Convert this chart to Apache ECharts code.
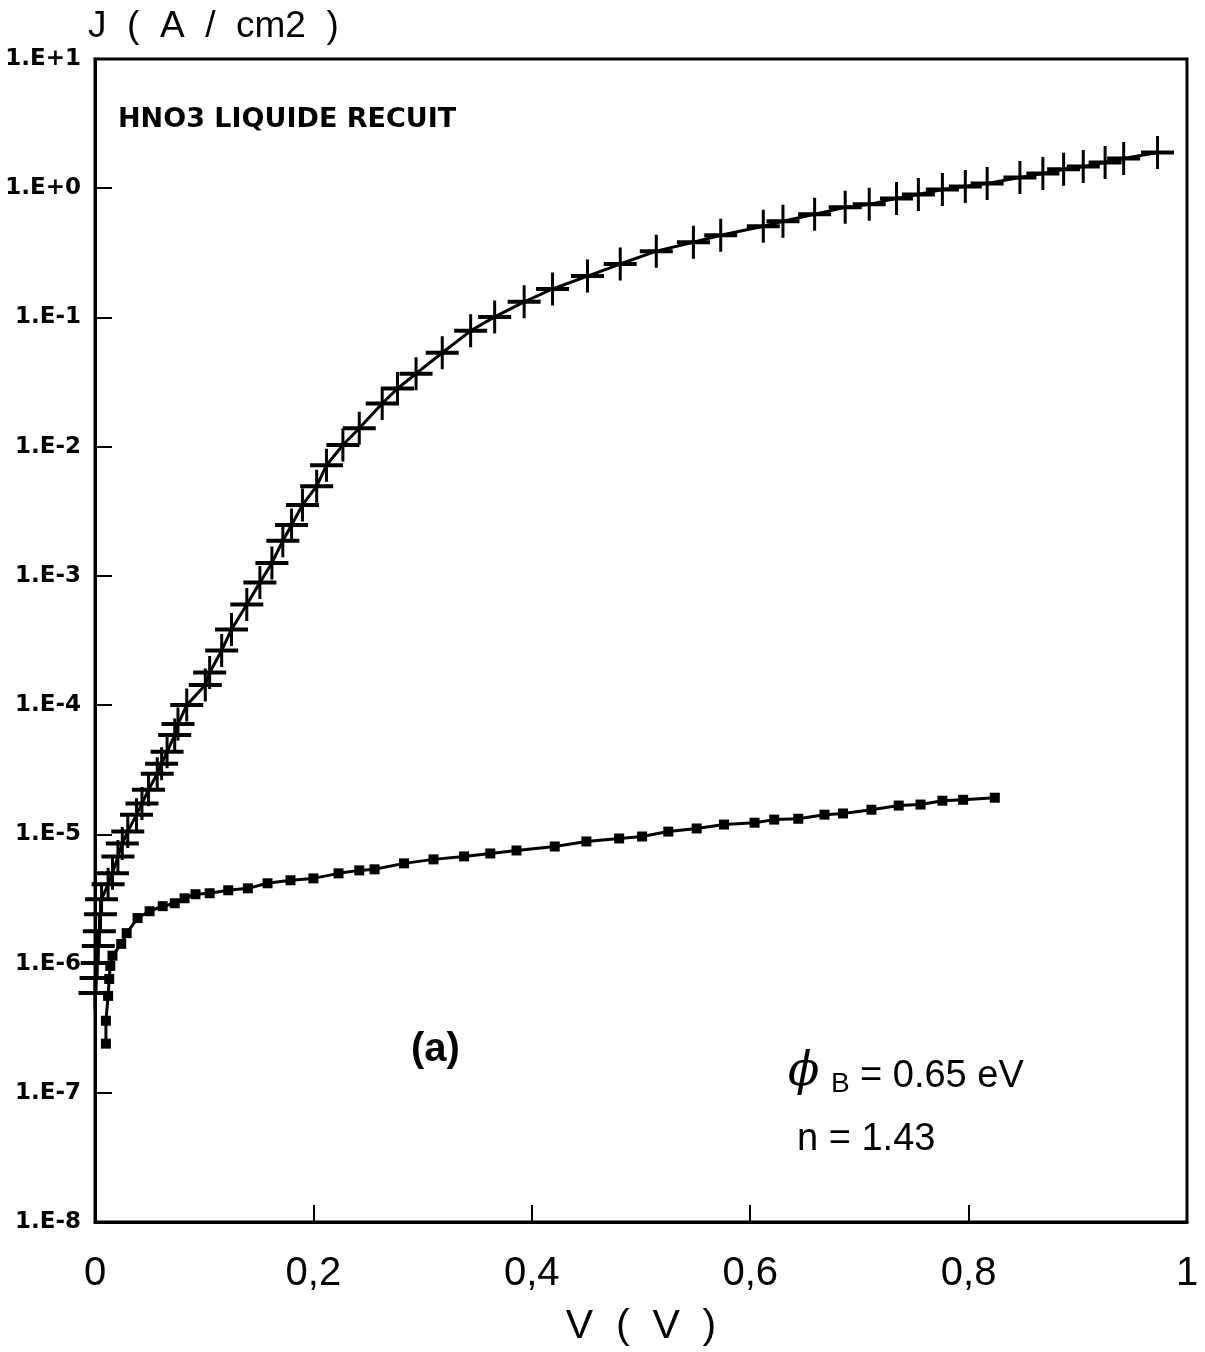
<!DOCTYPE html>
<html>
<head>
<meta charset="utf-8">
<script src="https://cdn.jsdelivr.net/npm/echarts@6/dist/echarts.min.js"></script>
<style>
html,body{margin:0;padding:0;background:#fff;}
#chart{width:1205px;height:1352px;}
</style>
</head>
<body>
<div id="chart"></div>
<script>
// Upper curve (plus markers): V (volts)
const upperV = [0.000,0.001,0.002,0.003,0.004,0.005,0.006,0.012,0.016,0.021,0.025,0.030,0.038,0.043,0.049,0.057,0.061,0.066,0.073,0.076,0.084,0.101,0.105,0.116,0.125,0.139,0.151,0.162,0.172,0.180,0.190,0.203,0.212,0.227,0.242,0.263,0.277,0.294,0.318,0.344,0.366,0.393,0.419,0.451,0.481,0.514,0.548,0.573,0.612,0.630,0.659,0.687,0.709,0.734,0.754,0.776,0.797,0.817,0.847,0.868,0.887,0.905,0.925,0.942,0.973];
// Upper curve: J (A/cm2)
const upperJ = [5.93e-7,7.74e-7,1.01e-6,1.37e-6,1.78e-6,2.41e-6,3.15e-6,4.10e-6,4.99e-6,6.75e-6,8.49e-6,1.05e-5,1.42e-5,1.73e-5,2.21e-5,2.94e-5,3.51e-5,4.35e-5,5.87e-5,7.14e-5,1.00e-4,1.43e-4,1.79e-4,2.65e-4,3.85e-4,6.00e-4,8.87e-4,1.26e-3,1.87e-3,2.48e-3,3.54e-3,4.95e-3,7.19e-3,1.03e-2,1.39e-2,2.16e-2,2.82e-2,3.67e-2,5.33e-2,7.88e-2,0.101,0.132,0.166,0.209,0.259,0.326,0.382,0.433,0.508,0.555,0.628,0.711,0.750,0.834,0.895,0.979,1.03,1.09,1.21,1.30,1.40,1.47,1.58,1.70,1.89];
// Lower curve (square markers): V (volts)
const lowerV = [0.010,0.010,0.012,0.013,0.014,0.016,0.024,0.029,0.039,0.050,0.062,0.073,0.082,0.092,0.105,0.122,0.140,0.158,0.179,0.200,0.223,0.242,0.256,0.283,0.310,0.338,0.362,0.386,0.421,0.450,0.480,0.501,0.525,0.551,0.576,0.604,0.622,0.644,0.668,0.685,0.711,0.736,0.756,0.776,0.795,0.824];
// Lower curve: J (A/cm2)
const lowerJ = [2.40e-7,3.61e-7,5.62e-7,7.60e-7,9.59e-7,1.15e-6,1.42e-6,1.72e-6,2.25e-6,2.54e-6,2.78e-6,2.93e-6,3.20e-6,3.44e-6,3.50e-6,3.69e-6,3.82e-6,4.18e-6,4.41e-6,4.56e-6,4.99e-6,5.26e-6,5.36e-6,5.96e-6,6.40e-6,6.75e-6,7.11e-6,7.50e-6,8.05e-6,8.81e-6,9.29e-6,9.62e-6,1.05e-5,1.11e-5,1.19e-5,1.23e-5,1.30e-5,1.32e-5,1.42e-5,1.45e-5,1.55e-5,1.67e-5,1.70e-5,1.82e-5,1.85e-5,1.92e-5];
// Tick labels
const xTickLabels = {0:'0',0.2:'0,2',0.4:'0,4',0.6:'0,6',0.8:'0,8',1:'1'};
const yTickLabels = {'1':'1.E+1','0':'1.E+0','-1':'1.E-1','-2':'1.E-2','-3':'1.E-3','-4':'1.E-4','-5':'1.E-5','-6':'1.E-6','-7':'1.E-7','-8':'1.E-8'};

const upperData = upperV.map((v,i)=>[v, upperJ[i]]);
const lowerData = lowerV.map((v,i)=>[v, lowerJ[i]]);

const FONT = 'Liberation Sans';
const plusPath = 'path://M0,14.5H33V18.5H0Z M15,0H18V33H15Z';

const chart = echarts.init(document.getElementById('chart'), null, {renderer:'canvas'});
chart.setOption({
  animation: false,
  backgroundColor: '#fff',
  grid: {left: 95, right: 18, top: 59, bottom: 125, show: true, borderColor: '#000', borderWidth: 3, backgroundColor: 'transparent'},
  xAxis: {
    type: 'value', min: 0, max: 1, interval: 0.2,
    axisLine: {show: true, lineStyle: {color: '#000', width: 3}},
    axisTick: {show: true, inside: true, length: 17, lineStyle: {color: '#000', width: 2}},
    splitLine: {show: false},
    axisLabel: {
      margin: 32, fontSize: 40, color: '#000', fontFamily: FONT,
      formatter: v => { const k = Math.round(v*10)/10; return xTickLabels[k] !== undefined ? xTickLabels[k] : ''; }
    },
    name: 'V  (  V  )', nameLocation: 'middle', nameGap: 84,
    nameTextStyle: {fontSize: 41, color: '#000', fontFamily: FONT}
  },
  yAxis: {
    type: 'log', logBase: 10, min: 1e-8, max: 10, interval: 1,
    axisLine: {show: true, lineStyle: {color: '#000', width: 3}},
    axisTick: {show: true, inside: true, length: 17, lineStyle: {color: '#000', width: 2}},
    splitLine: {show: false},
    minorTick: {show: false},
    axisLabel: {
      margin: 14, fontSize: 23, fontWeight: 'bold', color: '#000', fontFamily: 'DejaVu Sans',
      formatter: v => { const e = Math.round(Math.log10(v)); return yTickLabels[String(e)] || ''; }
    },
    name: 'J  (  A  /  cm2  )', nameLocation: 'end', nameGap: 14,
    nameTextStyle: {fontSize: 37, color: '#000', fontFamily: FONT, align: 'left', padding: [0,0,0,-7]}
  },
  series: [
    {
      type: 'line', data: upperData, symbol: plusPath, symbolSize: 33,
      lineStyle: {color: '#000', width: 3}, itemStyle: {color: '#000'}, z: 3
    },
    {
      type: 'line', data: lowerData, symbol: 'rect', symbolSize: 10,
      lineStyle: {color: '#000', width: 3}, itemStyle: {color: '#000'}, z: 3
    }
  ],
  graphic: [
    {type: 'text', left: 118, top: 106, style: {text: 'HNO3 LIQUIDE RECUIT', font: 'bold 27px "DejaVu Sans"', fill: '#000'}},
    {type: 'text', left: 411, top: 1030, style: {text: '(a)', font: 'bold 40px "Liberation Sans"', fill: '#000'}},
    {type: 'text', left: 788, top: 1050, style: {text: 'ϕ', font: 'italic 46px "DejaVu Serif"', fill: '#000'}},
    {type: 'text', left: 831, top: 1070, style: {text: 'B', font: '28px "Liberation Sans"', fill: '#000'}},
    {type: 'text', left: 860, top: 1058, style: {text: '= 0.65 eV', font: '38px "Liberation Sans"', fill: '#000'}},
    {type: 'text', left: 797, top: 1121, style: {text: 'n = 1.43', font: '38px "Liberation Sans"', fill: '#000'}}
  ]
});
</script>
</body>
</html>
